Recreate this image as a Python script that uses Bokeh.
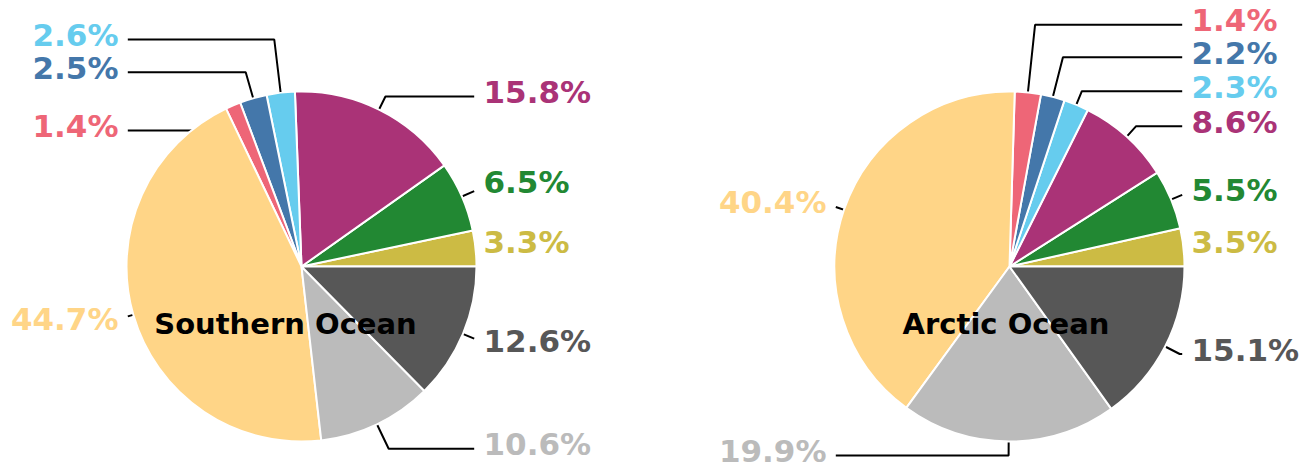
import numpy as np
from bokeh.plotting import figure
from bokeh.models import Range1d
from bokeh.core.properties import value
from bokeh.embed import file_html
from bokeh.resources import INLINE

# ---------------- data ----------------
categories = ["olive", "green", "purple", "cyan", "blue", "red", "light yellow", "light grey", "dark grey"]
colors = ["#CCBB44", "#228833", "#AA3377", "#66CCEE", "#4477AA", "#EE6677", "#FFD587", "#BBBBBB", "#575757"]

southern_values = [3.3, 6.5, 15.8, 2.6, 2.5, 1.4, 44.7, 10.6, 12.6]
southern_labels = ["3.3%", "6.5%", "15.8%", "2.6%", "2.5%", "1.4%", "44.7%", "10.6%", "12.6%"]

arctic_values = [3.5, 5.5, 8.6, 2.3, 2.2, 2.4, 40.4, 19.9, 15.1]
arctic_labels = ["3.5%", "5.5%", "8.6%", "2.3%", "2.2%", "1.4%", "40.4%", "19.9%", "15.1%"]

titles = ["Southern Ocean", "Arctic Ocean"]

# ---------------- layout ----------------
W, H = 1312, 467
R = 175.0
centers = [(301.0, H - 266.0), (1009.0, H - 266.0)]
# vertical label offsets (pixels, up positive) after overlap adjustment
label_dy = [
    [20.2, 80.5, 170.0, 227.0, 194.3, 136.0, -56.5, -182.3, -78.5],
    [19.7, 72.0, 140.3, 175.3, 209.3, 241.7, 59.7, -189.0, -87.5],
]
title_dx = [-16.0, -3.5]
title_dy = -57.5
LABEL_GAP_R = 182.0
LABEL_GAP_L = 183.0
PAD = 9.3
HALF_H = 27.0
TXT_DY = 4.5

p = figure(width=W, height=H, x_range=Range1d(0, W), y_range=Range1d(0, H),
           output_backend="svg", toolbar_location=None, min_border=0)
p.axis.visible = False
p.grid.visible = False
p.outline_line_color = None
p.background_fill_color = "white"
p.border_fill_color = "white"


def leader(cx, cy, ang, ly, side, edge_x):
    s, c = np.sin(ang), np.cos(ang)
    bx, by = cx + 0.95 * R * c, cy + 0.95 * R * s
    rc = (ly - cy) / s
    cxn = cx + rc * c
    inside = cxn >= edge_x if side > 0 else cxn <= edge_x
    if not inside:
        return [edge_x, cxn, bx], [ly, ly, by]
    t = (edge_x - cxn) / (bx - cxn)
    yy = ly + t * (by - ly)
    if abs(yy - ly) <= HALF_H:
        return [edge_x, bx], [yy, by]
    yb = ly + HALF_H * np.sign(by - ly)
    t = (yb - ly) / (by - ly)
    return [cxn + t * (bx - cxn), bx], [yb, by]


for k, (vals, labs) in enumerate([(southern_values, southern_labels), (arctic_values, arctic_labels)]):
    cx, cy = centers[k]
    v = np.array(vals, dtype=float)
    cum = np.concatenate([[0], np.cumsum(v)]) / v.sum() * 2 * np.pi
    starts, ends = cum[:-1], cum[1:]
    mids = (starts + ends) / 2

    # leader lines (under the pie)
    xs_all, ys_all = [], []
    for i in range(len(v)):
        side = 1 if np.cos(mids[i]) > 0 else -1
        ly = cy + label_dy[k][i]
        edge_x = cx + LABEL_GAP_R - PAD if side > 0 else cx - LABEL_GAP_L + PAD
        xs, ys = leader(cx, cy, mids[i], ly, side, edge_x)
        xs_all.append(xs)
        ys_all.append(ys)
    p.multi_line(xs=xs_all, ys=ys_all, line_color="black", line_width=2)

    # wedges
    p.wedge(x=[cx] * len(v), y=[cy] * len(v), radius=R, start_angle=starts, end_angle=ends,
            fill_color=colors, line_color="white", line_width=2)

    # labels
    for i in range(len(v)):
        side = 1 if np.cos(mids[i]) > 0 else -1
        tx = cx + LABEL_GAP_R if side > 0 else cx - LABEL_GAP_L
        p.text(x=[tx], y=[cy + label_dy[k][i] + TXT_DY], text=[labs[i]],
               text_color=colors[i], text_font=value("DejaVu Sans"), text_font_style="bold",
               text_font_size="31px", text_align="left" if side > 0 else "right",
               text_baseline="middle")

    # title
    p.text(x=[cx + title_dx[k]], y=[cy + title_dy], text=[titles[k]], text_color="black",
           text_font=value("DejaVu Sans"), text_font_style="bold", text_font_size="29px",
           text_align="center", text_baseline="middle")

open("out.html", "w").write(file_html(p, INLINE))
